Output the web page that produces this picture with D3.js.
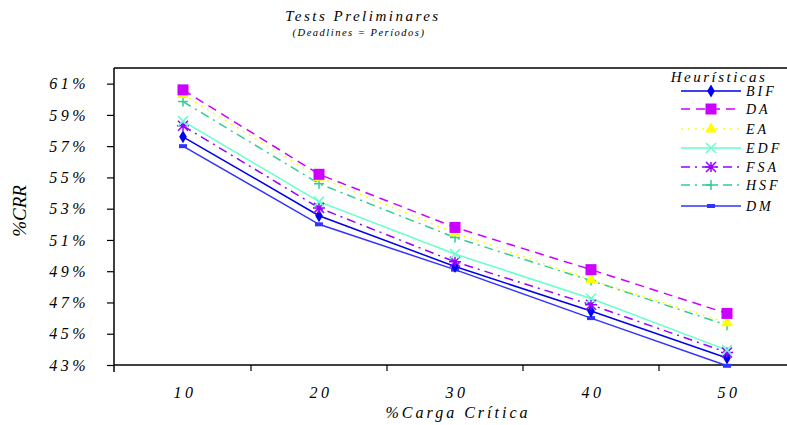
<!DOCTYPE html>
<html>
<head>
<meta charset="utf-8">
<script src="https://cdn.jsdelivr.net/npm/d3@7"></script>
<style>
  body { margin: 0; background: #fff; }
  svg { display: block; }
</style>
</head>
<body>
<div id="chart"></div>
<script>
// Data (%CRR per %Carga Crítica)
var categories = [10, 20, 30, 40, 50];
var yTicks = [43, 45, 47, 49, 51, 53, 55, 57, 59, 61];
var seriesNames = ["BIF", "DA", "EA", "EDF", "FSA", "HSF", "DM"];
var BIF = [57.6, 52.55, 49.3, 46.45, 43.45];
var DA  = [60.6, 55.2, 51.8, 49.1, 46.3];
var EA  = [60.3, 55.0, 51.45, 48.45, 45.7];
var EDF = [58.6, 53.45, 50.1, 47.25, 43.95];
var FSA = [58.3, 53.05, 49.6, 46.85, 43.8];
var HSF = [59.85, 54.6, 51.15, 48.4, 45.55];
var DM  = [57.0, 52.0, 49.1, 46.0, 42.95];

var W = 787, H = 425;
var margin = {top: 68, left: 114, bottom: 60};
var FONT = "Liberation Serif";

var styles = {
  BIF: {color: "#0000ee", dash: null,      marker: "diamond"},
  DA:  {color: "#cc00ff", dash: "9,6",     marker: "square"},
  EA:  {color: "#ffff00", dash: "2,5",     marker: "triangle"},
  EDF: {color: "#66ffcc", dash: null,      marker: "x"},
  FSA: {color: "#9900ff", dash: "9,5,2,5", marker: "asterisk"},
  HSF: {color: "#33cc99", dash: "9,5,2,5", marker: "plus"},
  DM:  {color: "#3333ff", dash: null,      marker: "rect"}
};
var values = {BIF: BIF, DA: DA, EA: EA, EDF: EDF, FSA: FSA, HSF: HSF, DM: DM};

var svg = d3.select("#chart").append("svg")
  .attr("width", W)
  .attr("height", H);

var x = d3.scaleBand().domain(categories).range([margin.left + 1, 795]).paddingInner(0).paddingOuter(0);
var y = d3.scaleLinear().domain([43, 62]).range([H - margin.bottom, margin.top]);

function label(sel, size, spacing) {
  return sel.style("font-family", FONT)
    .style("font-style", "italic")
    .style("font-size", size + "px")
    .style("letter-spacing", spacing + "px")
    .attr("fill", "#000");
}

// Titles
label(svg.append("text"), 15, 2.5)
  .attr("x", 363).attr("y", 21)
  .attr("text-anchor", "middle")
  .text("Tests Preliminares");
label(svg.append("text"), 10.5, 1.5)
  .attr("x", 359).attr("y", 36)
  .attr("text-anchor", "middle")
  .text("(Deadlines = Períodos)");

// Frame top line
svg.append("line")
  .attr("x1", margin.left).attr("x2", W)
  .attr("y1", margin.top).attr("y2", margin.top)
  .attr("stroke", "#000").attr("stroke-width", 1.5);

// Y axis
var yAxis = svg.append("g")
  .attr("transform", "translate(" + margin.left + ",0)")
  .call(d3.axisLeft(y).tickValues(yTicks).tickSize(7).tickPadding(18)
    .tickFormat(function(d) { return d + "%"; }));
yAxis.select(".domain").remove();
yAxis.append("line")
  .attr("x1", 0).attr("x2", 0)
  .attr("y1", margin.top).attr("y2", H - margin.bottom + 7)
  .attr("stroke", "#000").attr("stroke-width", 1.5);
yAxis.selectAll(".tick line").attr("stroke", "#000").attr("stroke-width", 1.2);
label(yAxis.selectAll(".tick text"), 16, 3.5)
  .attr("text-anchor", "end");

// X axis
var xAxis = svg.append("g")
  .attr("transform", "translate(0," + (H - margin.bottom) + ")")
  .call(d3.axisBottom(x).tickSize(0).tickPadding(22));
xAxis.select(".domain").remove();
xAxis.append("line")
  .attr("x1", margin.left).attr("x2", W)
  .attr("y1", 0).attr("y2", 0)
  .attr("stroke", "#000").attr("stroke-width", 1.5);
xAxis.selectAll(".bound")
  .data(categories)
  .enter().append("line")
  .attr("class", "bound")
  .attr("x1", function(d) { return x(d) + x.bandwidth(); })
  .attr("x2", function(d) { return x(d) + x.bandwidth(); })
  .attr("y1", 0).attr("y2", 6)
  .attr("stroke", "#000").attr("stroke-width", 1.2);
label(xAxis.selectAll(".tick text"), 16, 3.5)
  .attr("dx", "2px");

// Axis titles
label(svg.append("text"), 16, 3)
  .attr("x", 458).attr("y", 418)
  .attr("text-anchor", "middle")
  .text("%Carga Crítica");
label(svg.append("text"), 19, 0)
  .attr("transform", "translate(26,211) rotate(-90)")
  .attr("text-anchor", "middle")
  .text("%CRR");

// Marker drawing
function drawMarker(g, type, color) {
  if (type === "diamond") {
    g.append("path").attr("d", d3.symbol(d3.symbolDiamond, 50)()).attr("fill", color);
  } else if (type === "square") {
    g.append("rect").attr("x", -5.5).attr("y", -5.5).attr("width", 11).attr("height", 11).attr("fill", color);
  } else if (type === "triangle") {
    g.append("path").attr("d", d3.symbol(d3.symbolTriangle, 60)()).attr("fill", color);
  } else if (type === "x") {
    g.append("path").attr("d", "M-5,-5L5,5M-5,5L5,-5").attr("stroke", color).attr("stroke-width", 1.5);
  } else if (type === "asterisk") {
    g.append("path").attr("d", "M-5,-5L5,5M-5,5L5,-5M-6,0L6,0M0,-5L0,5").attr("stroke", color).attr("stroke-width", 1.5);
  } else if (type === "plus") {
    g.append("path").attr("d", "M-5,0L5,0M0,-5L0,5").attr("stroke", color).attr("stroke-width", 1.5);
  } else if (type === "rect") {
    g.append("rect").attr("x", -4).attr("y", -2).attr("width", 8).attr("height", 4).attr("fill", color);
  }
}

var cx = function(i) { return x(categories[i]) + x.bandwidth() / 2; };
var line = d3.line()
  .x(function(d, i) { return cx(i); })
  .y(function(d) { return y(d); });

// Series lines
var order = ["DM", "BIF", "FSA", "EDF", "HSF", "EA", "DA"];
order.forEach(function(name) {
  var s = styles[name];
  svg.append("path")
    .datum(values[name])
    .attr("fill", "none")
    .attr("stroke", s.color)
    .attr("stroke-width", 1.5)
    .attr("stroke-dasharray", s.dash)
    .attr("d", line);
});
order.forEach(function(name) {
  var s = styles[name];
  values[name].forEach(function(v, i) {
    var g = svg.append("g").attr("transform", "translate(" + cx(i) + "," + y(v) + ")");
    drawMarker(g, s.marker, s.color);
  });
});

// Legend
var legend = svg.append("g");
legend.append("rect")
  .attr("x", 664).attr("y", 70).attr("width", 123).attr("height", 150)
  .attr("fill", "#fff");
label(legend.append("text"), 15, 2.5)
  .attr("x", 719).attr("y", 82)
  .attr("text-anchor", "middle")
  .text("Heurísticas");
var legendY = [91, 109, 129, 148, 167, 185, 206];
seriesNames.forEach(function(name, i) {
  var s = styles[name];
  var row = legend.append("g").attr("transform", "translate(0," + legendY[i] + ")");
  row.append("line")
    .attr("x1", 681).attr("x2", 741)
    .attr("y1", 0).attr("y2", 0)
    .attr("stroke", s.color).attr("stroke-width", 1.5)
    .attr("stroke-dasharray", s.dash);
  drawMarker(row.append("g").attr("transform", "translate(711,0)"), s.marker, s.color);
  label(row.append("text"), 14, 3)
    .attr("x", 746).attr("y", 5)
    .text(name);
});
</script>
</body>
</html>
